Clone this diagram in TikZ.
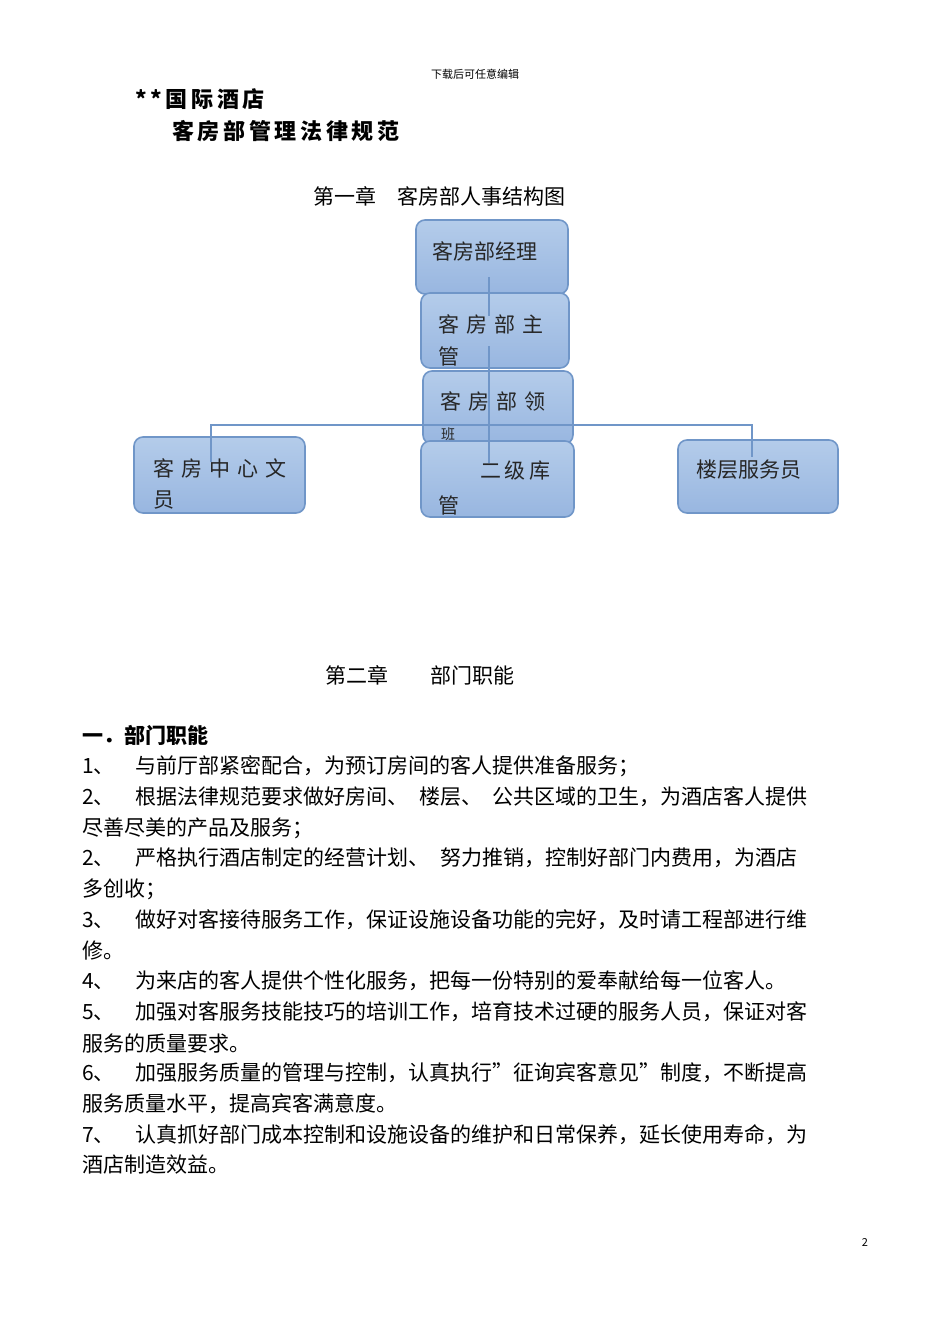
\documentclass[tikz,border=0pt]{standalone}
\usepackage{fontspec}
\setmainfont{Noto Sans CJK SC}
\begin{document}
\begin{tikzpicture}[x=1pt,y=-1pt,
 bx/.style={draw=boxline,line width=1.6pt,rounded corners=9pt,top color=boxtop,bottom color=boxbot},
 tx/.style={anchor=west,inner sep=0pt,font=\fontsize{21}{22}\selectfont},
 bt/.style={anchor=west,inner sep=0pt,font=\fontsize{21}{22}\selectfont,text=black!85},
 ln/.style={draw=boxline,line width=1.6pt}]
\definecolor{boxline}{HTML}{7096C8}
\definecolor{boxtop}{HTML}{B4CCEA}
\definecolor{boxbot}{HTML}{98B6E0}
\useasboundingbox (0,0) rectangle (950,1344);
\fill[white] (0,0) rectangle (950,1344);
\node[inner sep=0pt,font=\fontsize{11}{12}\selectfont] (hdr) at (475,74) {下载后可任意编辑};
\node[tx,font=\bfseries\fontsize{22}{24}\selectfont] (t1) at (135,99) {*\,*\,国\,际\,酒\,店};
\node[tx,font=\bfseries\fontsize{22}{24}\selectfont] (t2) at (172,131) {客\,房\,部\,管\,理\,法\,律\,规\,范};
\node[tx] (c1) at (313,196) {第一章\quad 客房部人事结构图};
% boxes
\path[bx] (416,220) rectangle (568,294);
\path[bx] (421,293) rectangle (569,368);
\path[bx] (423,371) rectangle (573,444);
\path[bx] (421,441) rectangle (574,517);
\path[bx] (134,437) rectangle (305,513);
\path[bx] (678,440) rectangle (838,513);
\node[bt] (m) at (432,251) {客房部经理};
\node[bt] (s1) at (438,324) {客\,\,房\,\,部\,\,主};
\node[bt] (s2) at (438,356) {管};
\node[bt] (l1) at (440,401) {客\,\,房\,\,部\,\,领};
\node[bt,font=\fontsize{14}{14}\selectfont] (l2) at (441,434) {班};
\node[bt] (k1) at (480,471) {二\,级\,库};
\node[bt] (k2) at (438,505) {管};
\node[bt] (w1) at (153,468) {客\,\,房\,\,中\,\,心\,\,文};
\node[bt] (w2) at (153,500) {员};
\node[bt] (f) at (696,470) {楼层服务员};
% connectors
\coordinate (a1) at (489,277); \coordinate (a2) at (489,316);
\coordinate (b1) at (489,346); \coordinate (b2) at (489,463);
\coordinate (hL) at (211,425); \coordinate (hR) at (752,425);
\coordinate (dL) at (211,462); \coordinate (dR) at (752,457);
\draw[ln] (a1) -- (a2);
\draw[ln] (b1) -- (b2);
\draw[ln] (dL) -- (hL) -- (hR) -- (dR);
\node[tx] (c2) at (325,675) {第二章\qquad 部门职能};
\node[tx,font=\bfseries\fontsize{21}{22}\selectfont] (h1) at (82,735) {一．部门职能};
\node[tx] (p1) at (82,766) {1、\hspace{1em}与前厅部紧密配合，为预订房间的客人提供准备服务；};
\node[tx] (p2) at (82,797) {2、\hspace{1em}根据法律规范要求做好房间、\enspace 楼层、\enspace 公共区域的卫生，为酒店客人提供};
\node[tx] (p3) at (82,828) {尽善尽美的产品及服务；};
\node[tx] (p4) at (82,858) {2、\hspace{1em}严格执行酒店制定的经营计划、\enspace 努力推销，控制好部门内费用，为酒店};
\node[tx] (p5) at (82,889) {多创收；};
\node[tx] (p6) at (82,920) {3、\hspace{1em}做好对客接待服务工作，保证设施设备功能的完好，及时请工程部进行维};
\node[tx] (p7) at (82,950) {修。};
\node[tx] (p8) at (82,981) {4、\hspace{1em}为来店的客人提供个性化服务，把每一份特别的爱奉献给每一位客人。};
\node[tx] (p9) at (82,1012) {5、\hspace{1em}加强对客服务技能技巧的培训工作，培育技术过硬的服务人员，保证对客};
\node[tx] (p10) at (82,1043) {服务的质量要求。};
\node[tx] (p11) at (82,1073) {6、\hspace{1em}加强服务质量的管理与控制，认真执行”征询宾客意见”制度，不断提高};
\node[tx] (p12) at (82,1104) {服务质量水平，提高宾客满意度。};
\node[tx] (p13) at (82,1135) {7、\hspace{1em}认真抓好部门成本控制和设施设备的维护和日常保养，延长使用寿命，为};
\node[tx] (p14) at (82,1165) {酒店制造效益。};
\node[inner sep=0pt,font=\fontsize{11}{12}\selectfont] (pg) at (865,1242) {2};
\end{tikzpicture}
\end{document}
